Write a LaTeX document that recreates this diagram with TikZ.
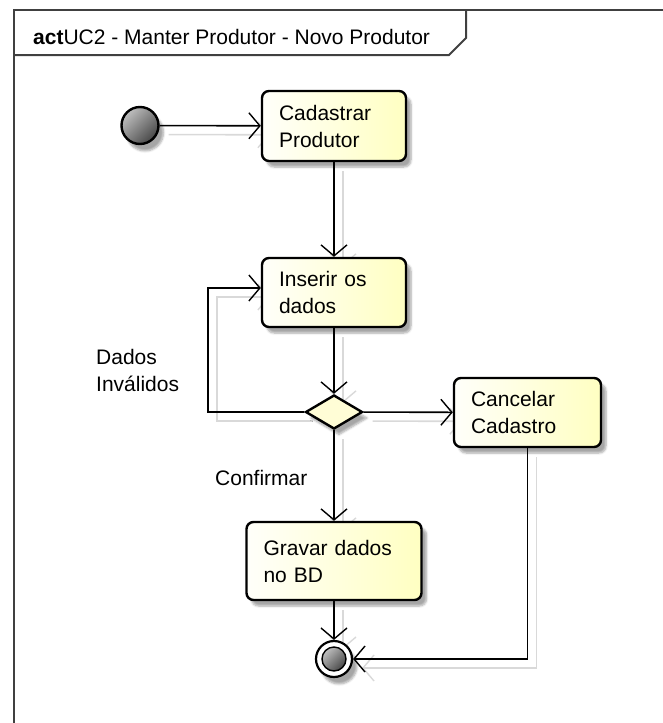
\documentclass[tikz,border=0pt]{standalone}
\usepackage{fontspec}
\setmainfont{Liberation Sans}
\usetikzlibrary{arrows.meta,shapes.geometric,shadows.blur,backgrounds,calc}

\tikzset{
  umlfont/.style={font=\fontsize{21}{27}\selectfont},
  frameline/.style={draw=black!75, line width=2pt},
  actbox/.style={rectangle, rounded corners=7pt, draw=black, line width=2.4pt,
    inner xsep=17pt, inner ysep=0pt, align=left, umlfont,
    left color=yellow!2!white, right color=yellow!24!white,
    blur shadow={shadow xshift=5pt, shadow yshift=-6pt, shadow blur steps=6, shadow opacity=35}},
  decbox/.style={diamond, draw=black, line width=2.4pt, inner sep=0pt,
    minimum width=57pt, minimum height=34pt, fill=yellow!16!white,
    blur shadow={shadow xshift=5pt, shadow yshift=-6pt, shadow blur steps=6, shadow opacity=35}},
  greyball/.style={top color=black!25, bottom color=black!72, shading angle=45},
  startnode/.style={circle, draw=black, line width=2.4pt, minimum size=37pt, inner sep=0pt,
    greyball,
    blur shadow={shadow xshift=5pt, shadow yshift=-7pt, shadow blur steps=6, shadow opacity=35}},
  endnode/.style={circle, draw=black, line width=2.2pt, minimum size=36pt, inner sep=0pt,
    fill=white,
    blur shadow={shadow xshift=5pt, shadow yshift=-7pt, shadow blur steps=6, shadow opacity=35}},
  endcore/.style={circle, draw=black, line width=1.4pt, minimum size=24pt, inner sep=0pt,
    greyball},
  flow/.style={draw=black, line width=1.6pt,
    -{Straight Barb[length=11pt, width=26pt, line width=1.4pt]}},
  flowshade/.style={draw=black!15, line width=1.6pt,
    -{Straight Barb[length=11pt, width=26pt, line width=1.4pt]}},
  guard/.style={umlfont, align=left, inner sep=0pt, anchor=north west},
}

\begin{document}
\begin{tikzpicture}[x=1pt, y=-1pt]
\useasboundingbox (0,0) rectangle (663,723);

% diagram frame with its name tab
\draw[frameline] (14,723) -- (14,10) -- (663,10);
\draw[frameline] (14,55) -- (449,55) -- (466,38) -- (466,10);
\node[umlfont, anchor=base west, inner sep=0pt] (title) at (33,44)
  {\textbf{act}UC2 - Manter Produtor - Novo Produtor};

% activity nodes
\node[startnode] (init) at (140,125.5) {};
\node[actbox, text width=110pt, minimum height=70pt] (cad) at (334,126) {Cadastrar\\Produtor};
\node[actbox, text width=110pt, minimum height=69pt] (ins) at (334,292.5) {Inserir os\\dados};
\node[decbox] (dec) at (334,412) {};
\node[actbox, text width=113pt, minimum height=69pt] (canc) at (527.5,412.5) {Cancelar\\Cadastro};
\node[actbox, text width=141pt, minimum height=78pt] (grav) at (334,561) {Gravar dados\\no BD};
\node[endnode] (fin) at (334,659) {};
\node[endcore] (fincore) at (fin.center) {};

\coordinate (loopx) at (208,412);
\coordinate (insin) at ([yshift=4.5pt]ins.west);

% guard labels
\node[guard] (lblinv) at (96,349) {Dados\\Inválidos};
\node[guard] (lblconf) at (215,470) {Confirmar};

% faint offset copies of the control flows
\begin{scope}[on background layer]
  \begin{scope}[transform canvas={shift={(9pt,-9pt)}}]
    \draw[flowshade] (init) -- (cad);
    \draw[flowshade] (cad) -- (ins);
    \draw[flowshade] (ins) -- (dec);
    \draw[flowshade] (dec) -- (canc);
    \draw[flowshade] (dec) -- (grav);
    \draw[flowshade] (grav) -- (fin);
    \draw[flowshade] (dec.west) -- (dec.west -| loopx) |- (insin);
    \draw[flowshade] (canc.south) |- (fin.east);
  \end{scope}
\end{scope}

% control flows
\draw[flow] (init) -- (cad);
\draw[flow] (cad) -- (ins);
\draw[flow] (ins) -- (dec);
\draw[flow] (dec) -- (canc);
\draw[flow] (dec) -- (grav);
\draw[flow] (grav) -- (fin);
\draw[flow] (dec.west) -- (dec.west -| loopx) |- (insin);
\draw[flow] (canc.south) |- (fin.east);
\end{tikzpicture}
\end{document}
